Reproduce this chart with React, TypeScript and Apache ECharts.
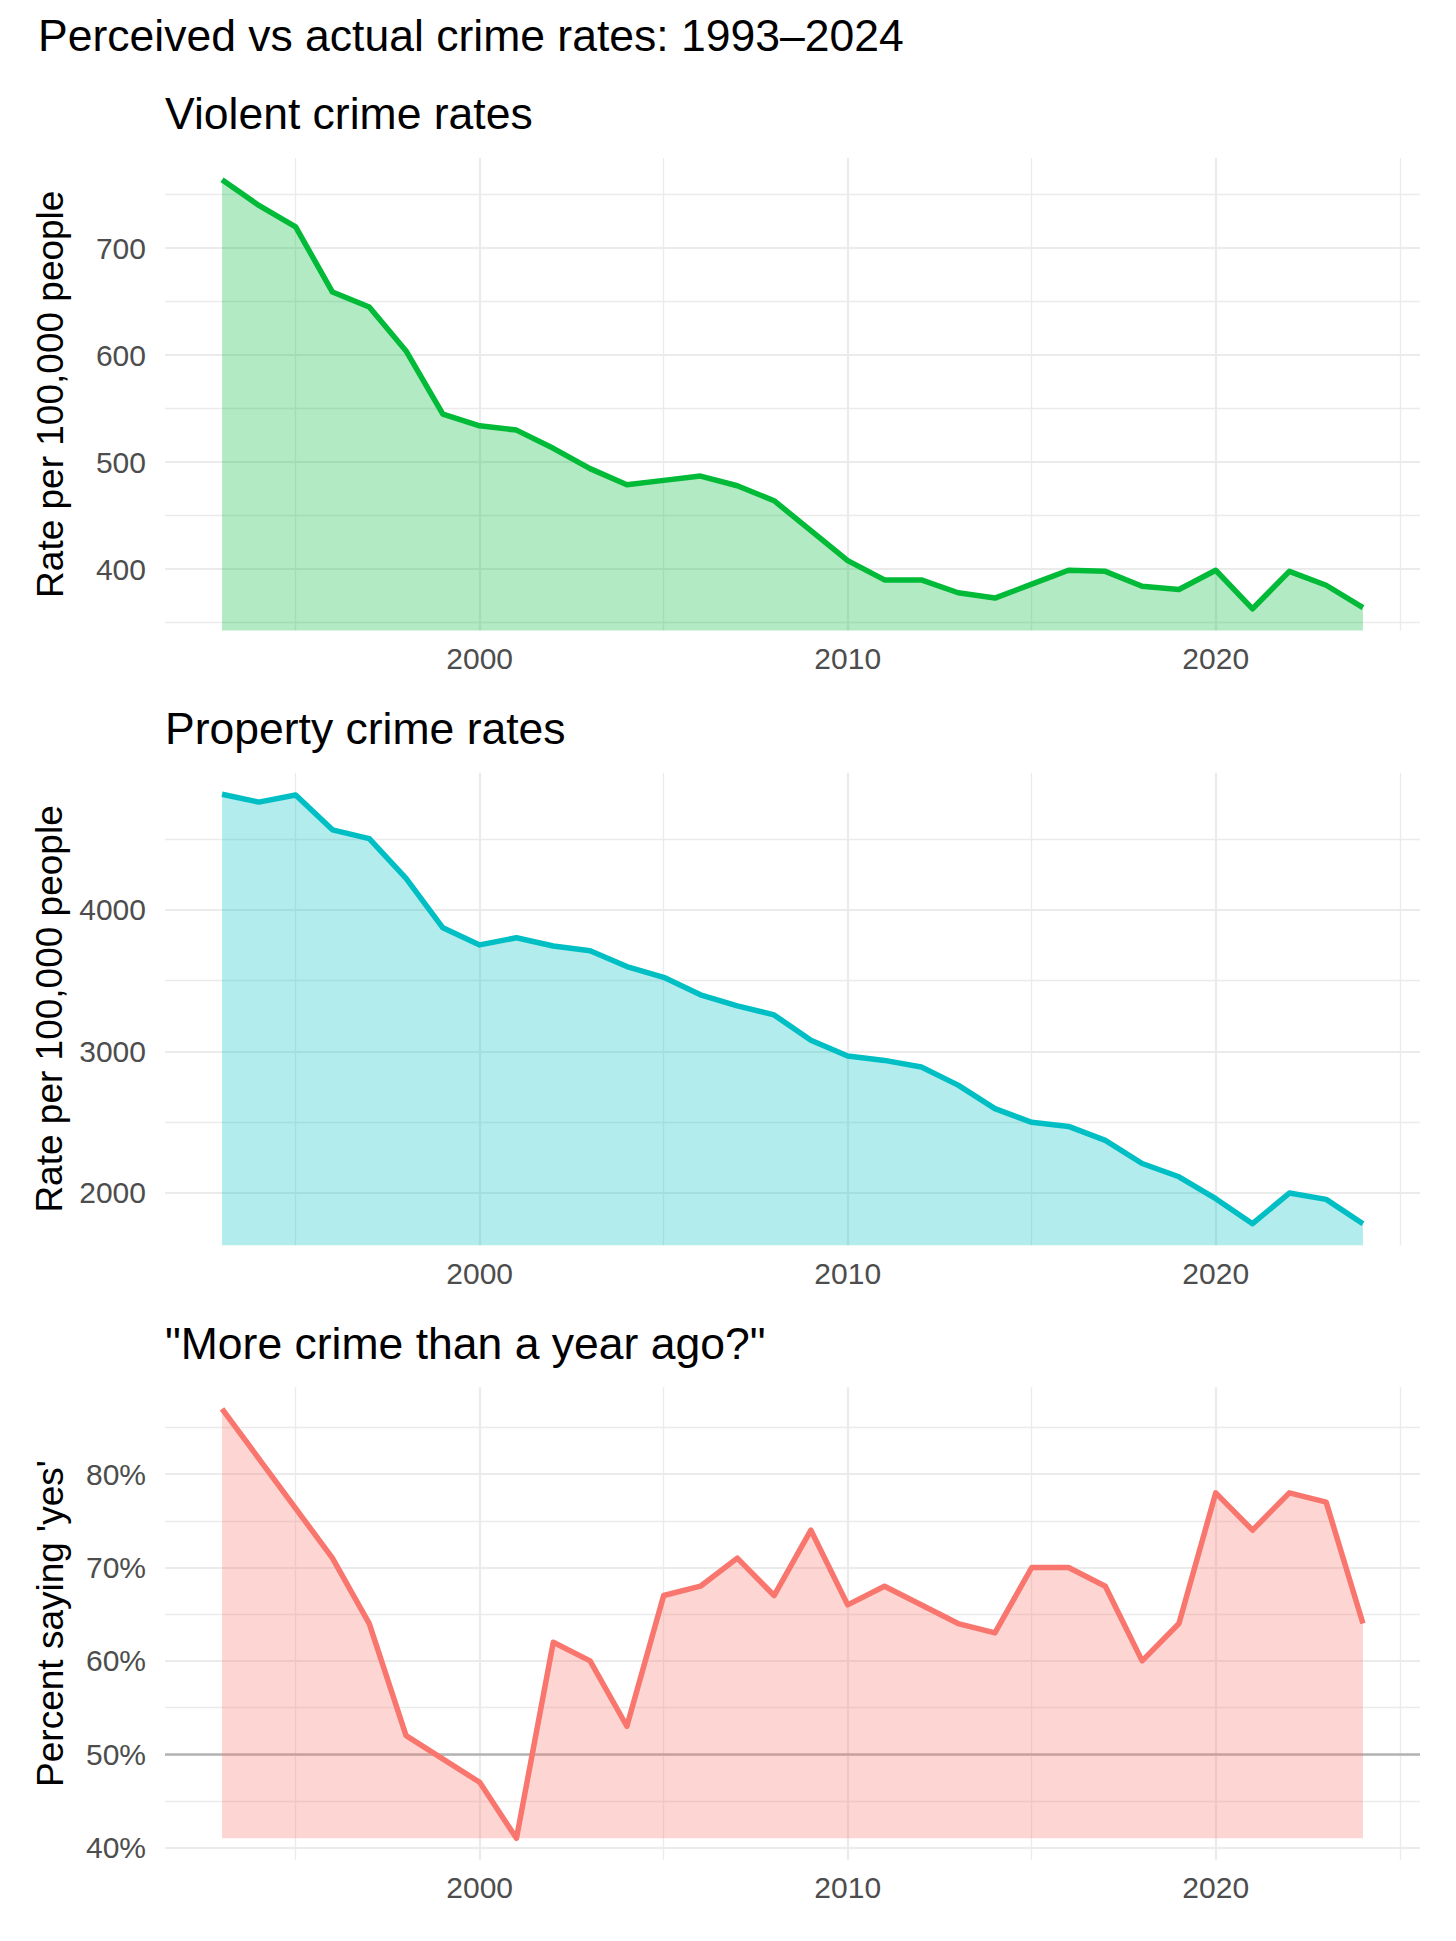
import React, { useEffect, useRef } from "react";
import * as echarts from "echarts";

// ---------- data ----------
const years = [
  1993, 1994, 1995, 1996, 1997, 1998, 1999, 2000, 2001, 2002, 2003, 2004, 2005, 2006, 2007, 2008,
  2009, 2010, 2011, 2012, 2013, 2014, 2015, 2016, 2017, 2018, 2019, 2020, 2021, 2022, 2023, 2024,
];
const violentRates = [
  764, 740, 720, 659, 645, 604, 545, 534, 530, 513, 494, 479, 483, 487, 478, 464,
  436, 408, 390, 390, 378, 373, 386, 399, 398, 384, 381, 399, 363, 398, 385, 364,
];
const propertyRates = [
  4819, 4763, 4813, 4567, 4505, 4224, 3874, 3753, 3804, 3745, 3712, 3600, 3524, 3400, 3322, 3258,
  3078, 2967, 2936, 2889, 2761, 2595, 2498, 2469, 2370, 2207, 2113, 1958, 1781, 1998, 1953, 1781,
];
const perceivedMore: (number | null)[] = [
  87, null, null, 71, 64, 52, null, 47, 41, 62, 60, 53, 67, 68, 71, 67,
  74, 66, 68, null, 64, 63, 70, 70, 68, 60, 64, 78, 74, 78, 77, 64,
];

const xLabelYears = [2000, 2010, 2020];
const xMinorYears = [1995, 2005, 2015, 2025];
const xRange = [1991.45, 2025.55];

const violentTicks = [400, 500, 600, 700];
const violentMinor = [350, 450, 550, 650, 750];
const violentRange = [342.7, 784.3];

const propertyTicks = [2000, 3000, 4000];
const propertyMinor = [2500, 3500, 4500];
const propertyRange = [1629, 4971];

const perceivedTicks = [40, 50, 60, 70, 80];
const perceivedMinor = [45, 55, 65, 75, 85];
const perceivedRange = [38.7, 89.3];
const perceivedBase = 41;
const referenceLevel = 50;

const mainTitle = "Perceived vs actual crime rates: 1993\u20132024";
const panelTitles = ["Violent crime rates", "Property crime rates", '"More crime than a year ago?"'];
const yTitles = ["Rate per 100,000 people", "Rate per 100,000 people", "Percent saying 'yes'"];

// ---------- layout / style ----------
const FONT = "'Liberation Sans', Arial, Helvetica, sans-serif";
const LEFT = 165;
const WIDTH = 1255;
const HEIGHT = 472.5;
const TOPS = [158, 772.7, 1387.3];
const TITLE_TOPS = [91, 706, 1321];
const GRID_COLOR = "#ebebeb";

export default function App() {
  const ref = useRef<HTMLDivElement>(null);

  useEffect(() => {
    document.body.style.margin = "0";
    if (!ref.current) return;
    const chart = echarts.init(ref.current, undefined, { renderer: "svg" });

    const panels = [
      {
        values: violentRates,
        color: "#00BA38",
        fill: "rgba(0,186,56,0.3)",
        range: violentRange,
        ticks: violentTicks,
        minor: violentMinor,
        fmt: (v: number) => String(v),
        origin: "start" as any,
      },
      {
        values: propertyRates,
        color: "#00BFC4",
        fill: "rgba(0,191,196,0.3)",
        range: propertyRange,
        ticks: propertyTicks,
        minor: propertyMinor,
        fmt: (v: number) => String(v),
        origin: "start" as any,
      },
      {
        values: perceivedMore,
        color: "#F8766D",
        fill: "rgba(248,118,109,0.3)",
        range: perceivedRange,
        ticks: perceivedTicks,
        minor: perceivedMinor,
        fmt: (v: number) => v + "%",
        origin: perceivedBase as any,
      },
    ];

    const grid = TOPS.map((t) => ({ left: LEFT, top: t, width: WIDTH, height: HEIGHT }));

    const xAxis = panels.map((_, i) => ({
      type: "value",
      gridIndex: i,
      min: xRange[0],
      max: xRange[1],
      axisLine: { show: false },
      axisTick: { show: false },
      splitLine: { show: false },
      axisLabel: {
        customValues: xLabelYears,
        formatter: (v: number) => String(v),
        fontSize: 30,
        color: "#4d4d4d",
        fontFamily: FONT,
        margin: 13,
      },
    }));

    const yAxis = panels.map((p, i) => ({
      type: "value",
      gridIndex: i,
      min: p.range[0],
      max: p.range[1],
      axisLine: { show: false },
      axisTick: { show: false },
      splitLine: { show: false },
      axisLabel: {
        customValues: p.ticks,
        formatter: p.fmt,
        fontSize: 30,
        color: "#4d4d4d",
        fontFamily: FONT,
        margin: 19,
      },
      name: yTitles[i],
      nameLocation: "middle",
      nameRotate: 90,
      nameGap: 96,
      nameTextStyle: { fontSize: 37, color: "#000", fontFamily: FONT },
    }));

    const line = (w: number) => ({ color: GRID_COLOR, width: w, type: "solid" });

    const series: any[] = [];
    panels.forEach((p, i) => {
      const data = years.map((y, k) => [y, p.values[k]]);
      series.push({
        type: "line",
        xAxisIndex: i,
        yAxisIndex: i,
        data,
        z: 1,
        silent: true,
        showSymbol: false,
        symbol: "none",
        lineStyle: { opacity: 0, width: 0 },
        markLine: {
          z: 1,
          silent: true,
          symbol: ["none", "none"],
          label: { show: false },
          animation: false,
          data: [
            ...p.ticks.map((v) => ({ yAxis: v, lineStyle: line(2.2) })),
            ...p.minor.map((v) => ({ yAxis: v, lineStyle: line(1.3) })),
            ...xLabelYears.map((v) => ({ xAxis: v, lineStyle: line(2.2) })),
            ...xMinorYears.map((v) => ({ xAxis: v, lineStyle: line(1.3) })),
          ],
        },
      });
      if (i === 2) {
        series.push({
          type: "line",
          xAxisIndex: i,
          yAxisIndex: i,
          data,
          z: 2,
          silent: true,
          showSymbol: false,
          symbol: "none",
          lineStyle: { opacity: 0, width: 0 },
          markLine: {
            z: 2,
            silent: true,
            symbol: ["none", "none"],
            label: { show: false },
            animation: false,
            data: [{ yAxis: referenceLevel, lineStyle: { color: "#b3b3b3", width: 2.5, type: "solid" } }],
          },
        });
      }
      series.push({
        type: "line",
        xAxisIndex: i,
        yAxisIndex: i,
        data,
        z: 3,
        silent: true,
        showSymbol: false,
        symbol: "none",
        connectNulls: true,
        lineStyle: { color: p.color, width: 5.5, join: "round" },
        areaStyle: { color: p.fill, opacity: 1, origin: p.origin },
      });
    });

    const title = [
      {
        text: mainTitle,
        left: 38,
        top: 13,
        padding: 0,
        z: 10,
        textStyle: { fontSize: 44.5, fontWeight: "normal", color: "#000", fontFamily: FONT },
      },
      ...panelTitles.map((t, i) => ({
        text: t,
        left: LEFT,
        top: TITLE_TOPS[i],
        padding: 0,
        z: 10,
        textStyle: { fontSize: 44.5, fontWeight: "normal", color: "#000", fontFamily: FONT },
      })),
    ];

    chart.setOption({
      animation: false,
      backgroundColor: "#ffffff",
      title,
      grid,
      xAxis,
      yAxis,
      series,
    } as any);

    return () => chart.dispose();
  }, []);

  return <div ref={ref} style={{ width: 1456, height: 1941 }} />;
}
